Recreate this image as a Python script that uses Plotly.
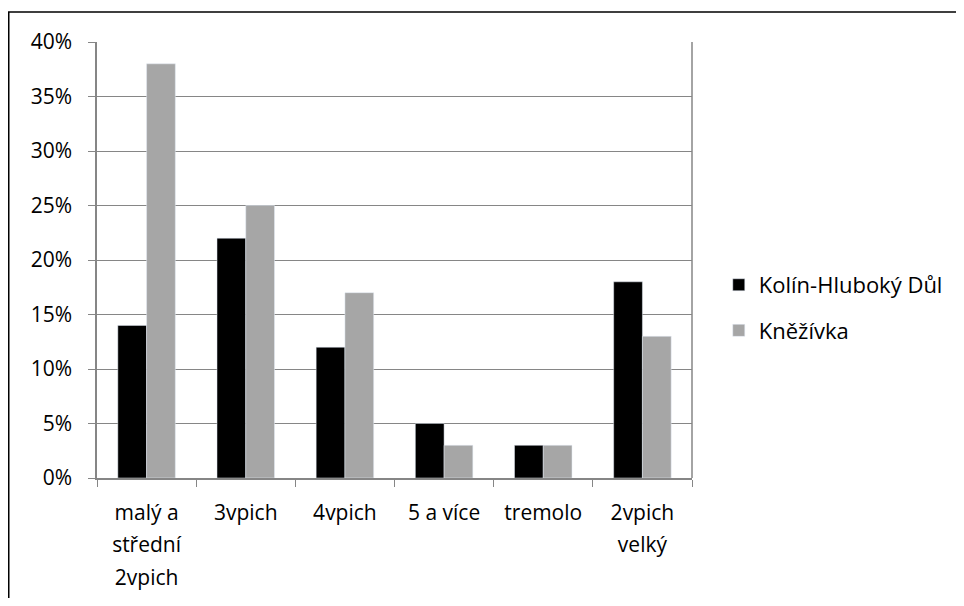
import plotly.graph_objects as go

categories = ["malý a<br>střední<br>2vpich", "3vpich", "4vpich", "5 a více", "tremolo", "2vpich<br>velký"]
kolin = [0.14, 0.22, 0.12, 0.05, 0.03, 0.18]
knezivka = [0.38, 0.25, 0.17, 0.03, 0.03, 0.13]
series_names = ["Kolín-Hluboký Důl", "Kněžívka"]
tick_vals = [0, 0.05, 0.10, 0.15, 0.20, 0.25, 0.30, 0.35, 0.40]

AXIS_GRAY = "#868686"
FONT = "Open Sans"
TEXT_SIZE = 21


def small(label):
    # glyphs at TEXT_SIZE while the larger axis font gives Excel-like line spacing
    return "<br>".join(f"<span style='font-size:{TEXT_SIZE}px'>{part}</span>" for part in label.split("<br>"))


fig = go.Figure()
fig.add_trace(go.Bar(x=categories, y=kolin, name=series_names[0], marker_color="#000000",
                     legendgroup="a"))
fig.add_trace(go.Bar(x=categories, y=knezivka, name=series_names[1], marker_color="#A6A6A6",
                     legendgroup="b"))

# page body has an 8px margin, so the figure is kept smaller than the window
fig.update_layout(
    width=948,
    height=590,
    barmode="group",
    bargap=0.42,
    bargroupgap=0,
    plot_bgcolor="white",
    paper_bgcolor="white",
    font=dict(family=FONT, size=TEXT_SIZE, color="#000000"),
    margin=dict(l=89, r=264, t=34, b=120, autoexpand=False),
    legend=dict(
        x=1.045, y=0.39, xanchor="left", yanchor="middle",
        traceorder="grouped", tracegroupgap=14,
        font=dict(family=FONT, size=22),
        itemwidth=30,
    ),
    shapes=[
        dict(type="rect", xref="paper", yref="paper",
             x0=-0.1483, x1=2, y0=-1, y1=1.0688,
             line=dict(color="#000000", width=1.5), fillcolor="rgba(0,0,0,0)", layer="below"),
    ],
)

fig.update_xaxes(
    tickvals=categories,
    ticktext=[small(c) for c in categories],
    tickfont=dict(size=25),
    tickson="boundaries",
    ticks="outside",
    ticklen=7,
    tickcolor=AXIS_GRAY,
    showline=True,
    linecolor=AXIS_GRAY,
    linewidth=1.5,
    showgrid=False,
    ticklabelstandoff=10,
    automargin=False,
)
fig.update_yaxes(
    range=[0, 0.4],
    tickvals=tick_vals,
    tickformat=".0%",
    ticks="outside",
    ticklen=7,
    tickcolor=AXIS_GRAY,
    showline=True,
    linecolor=AXIS_GRAY,
    linewidth=1.5,
    showgrid=True,
    gridcolor=AXIS_GRAY,
    gridwidth=1,
    zeroline=False,
    ticklabelstandoff=12,
    tickfont=dict(size=TEXT_SIZE),
    automargin=False,
)

# right edge line of the plot area
fig.add_shape(type="line", xref="paper", yref="paper", x0=1, x1=1, y0=0, y1=1,
              line=dict(color=AXIS_GRAY, width=1.5))

fig.write_html("out.html")
